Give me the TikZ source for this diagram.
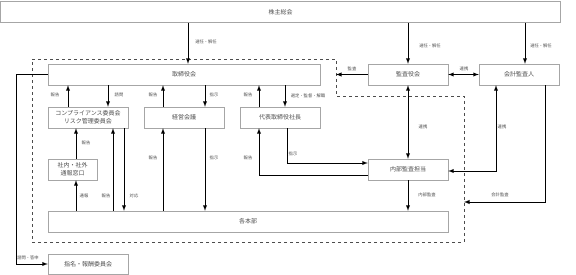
\documentclass[tikz,border=0pt]{standalone}
\usepackage{fontspec}
\setmainfont{Noto Sans CJK JP}
\newcommand{\boxfont}{\fontsize{6}{8}\selectfont}
\newcommand{\lblfont}{\fontsize{4.3}{5}\selectfont}
\tikzset{x=1pt, y=-1pt, >=latex,
    box/.style={draw=gray!70, text=black!70, font=\boxfont, minimum height=21pt, inner sep=1pt, align=center},
    lbl/.style={text=black!70, font=\lblfont, inner sep=0pt},
    flow/.style={->, line width=0.9pt},
    both/.style={<->, line width=0.9pt}}

\begin{document}
\begin{tikzpicture}
                \useasboundingbox (0,0) rectangle (576,275);
                \coordinate (fa) at (32,59);
                \coordinate (fb) at (336,59);
                \coordinate (fc) at (336,96);
                \coordinate (fd) at (464,96);
                \coordinate (fe) at (464,242);
                \coordinate (ff) at (32,242);
                \draw[black!70, dashed, line width=0.8pt] (fa) -- (fb) -- (fc) -- (fd) -- (fe) -- (ff) -- cycle;
                \node[box, minimum width=560pt] (kabu) at (280.5,12) {株主総会};
                \node[box, minimum width=272pt] (tori) at (184,74.5) {取締役会};
                \node[box, minimum width=80pt] (kansa) at (408,74.5) {監査役会};
                \node[box, minimum width=80pt] (kaikei) at (519,74.5) {会計監査人};
                \node[box, minimum width=80pt] (comp) at (88,117.5) {コンプライアンス委員会\\リスク管理委員会};
                \node[box, minimum width=80pt] (keiei) at (184,117.5) {経営会議};
                \node[box, minimum width=80pt] (shacho) at (280,117.5) {代表取締役社長};
                \node[box, minimum width=49pt] (tsuho) at (72.5,169.5) {社内・社外\\通報窓口};
                \node[box, minimum width=80pt] (naibu) at (408,169.5) {内部監査担当};
                \node[box, minimum width=400pt] (kakubu) at (248,221.5) {各本部};
                \node[box, minimum width=80pt, minimum height=20pt] (shimei) at (88,264) {指名・報酬委員会};
                \draw[flow] (188,0 |- kabu.south) -- (188,0 |- tori.north);
                \draw[flow] (408,0 |- kabu.south) -- (408,0 |- kansa.north);
                \draw[flow] (525,0 |- kabu.south) -- (525,0 |- kaikei.north);
                \draw[flow] (kansa.west) -- (kansa.west -| fb);
                \draw[both] (kansa.east) -- (kaikei.west);
                \draw[flow] (tori.west) -- (16,0 |- tori.west) -- (16,0 |- shimei.west) -- (shimei.west);
                \draw[flow] (68,0 |- comp.north) -- (68,0 |- tori.south);
                \draw[flow] (108,0 |- tori.south) -- (108,0 |- comp.north);
                \draw[flow] (163,0 |- keiei.north) -- (163,0 |- tori.south);
                \draw[flow] (205,0 |- tori.south) -- (205,0 |- keiei.north);
                \draw[flow] (259,0 |- shacho.north) -- (259,0 |- tori.south);
                \draw[flow] (285,0 |- tori.south) -- (285,0 |- shacho.north);
                \draw[flow] (76,0 |- tsuho.north) -- (76,0 |- comp.south);
                \draw[flow] (76,0 |- kakubu.north) -- (76,0 |- tsuho.south);
                \draw[flow] (113,0 |- kakubu.north) -- (113,0 |- comp.south);
                \draw[flow] (124,0 |- comp.south) -- (124,0 |- kakubu.north);
                \draw[flow] (163,0 |- kakubu.north) -- (163,0 |- keiei.south);
                \draw[flow] (205,0 |- keiei.south) -- (205,0 |- kakubu.north);
                \draw[flow] (naibu.west |- 0,175) -- (259,175) -- (259,0 |- shacho.south);
                \draw[flow] (287,0 |- shacho.south) -- (287,163) -- (naibu.west |- 0,163);
                \draw[both] (kansa.south) -- (naibu.north);
                \draw[flow] (naibu.south) -- (naibu.south |- kakubu.north);
                \draw[both] (naibu.east |- 0,171) -- (496,171) -- (496,0 |- kaikei.south);
                \draw[flow] (545,0 |- kaikei.south) -- (545,202) -- (fe |- 0,202);
                \node[lbl] (l1) at (206,42) {選任・解任};
                \node[lbl] (l2) at (430,46) {選任・解任};
                \node[lbl] (l3) at (541,46) {選任・解任};
                \node[lbl] (l4) at (352,69) {監査};
                \node[lbl] (l5) at (464,69) {連携};
                \node[lbl] (l6) at (55,95) {報告};
                \node[lbl] (l7) at (119,95) {諮問};
                \node[lbl] (l8) at (153,95) {報告};
                \node[lbl] (l9) at (214,95) {指示};
                \node[lbl] (l10) at (248,95) {報告};
                \node[lbl] (l11) at (308,96) {選定・監督・解職};
                \node[lbl] (l12) at (86,143) {報告};
                \node[lbl] (l13) at (153,158) {報告};
                \node[lbl] (l14) at (214,158) {指示};
                \node[lbl] (l15) at (248,158) {報告};
                \node[lbl] (l16) at (293,154) {指示};
                \node[lbl] (l17) at (84,196) {通報};
                \node[lbl] (l18) at (106,196) {報告};
                \node[lbl] (l19) at (134,196) {対応};
                \node[lbl] (l20) at (423,127) {連携};
                \node[lbl] (l21) at (502,127) {連携};
                \node[lbl] (l22) at (427,195) {内部監査};
                \node[lbl] (l23) at (500,195) {会計監査};
                \node[lbl] (l24) at (28,258) {諮問・答申};
            \end{tikzpicture}
\end{document}
